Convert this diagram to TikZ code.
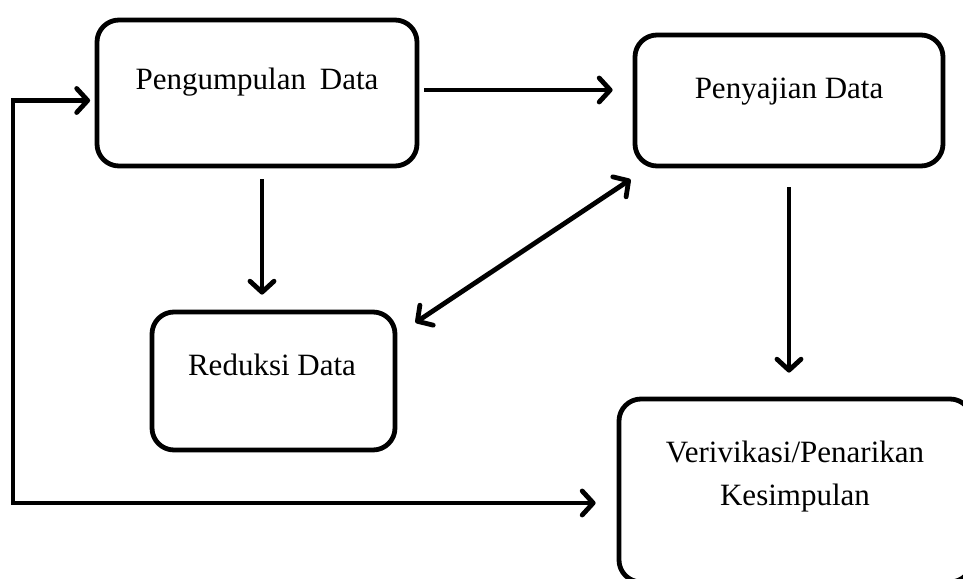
\documentclass[tikz,border=0pt]{standalone}
\usepackage{fontspec}
\setmainfont{Liberation Serif}
\usetikzlibrary{arrows.meta}
\tikzset{
  box/.style={draw, line width=4.8pt, rounded corners=22pt, minimum width=#1, inner sep=0pt},
  lbl/.style={anchor=base, font=\fontsize{31}{40}\selectfont, inner sep=0pt},
  arr/.style={line width=4.8pt, -{Straight Barb[length=11pt, width=24pt, line cap=round, line join=round]}},
  darr/.style={line width=4.8pt, {Straight Barb[length=11pt, width=24pt, line cap=round, line join=round]}-{Straight Barb[length=11pt, width=24pt, line cap=round, line join=round]}}
}
\begin{document}
\begin{tikzpicture}[x=1pt, y=-1pt]
\useasboundingbox (0,0) rectangle (963,578);
\clip (0,0) rectangle (963,578);
% boxes
\node[box=320pt, minimum height=146pt] (b1) at (257,93) {};
\node[box=308pt, minimum height=131pt] (b2) at (789,100.5) {};
\node[box=243pt, minimum height=138pt] (b3) at (273.5,381) {};
\node[box=353pt, minimum height=183pt] (b4) at (795.5,490.5) {};
% texts
\node[lbl] (t1) at (257,89) {Pengumpulan\hspace{0.45em}Data};
\node[lbl] (t2) at (789,98) {Penyajian Data};
\node[lbl] (t3) at (272,375) {Reduksi Data};
\node[lbl] (t4a) at (795,462) {Verivikasi/Penarikan};
\node[lbl] (t4b) at (795,505) {Kesimpulan};
% connectors
\draw[arr, shorten >=20pt] ([xshift=5pt, yshift=3pt]b1.east) -- ([yshift=3pt]b1.east -| b2.west);
\draw[arr, shorten <=11pt, shorten >=15pt] ([xshift=5pt]b1.south) -- ([xshift=5pt]b1.south |- b3.north);
\draw[arr, shorten <=19pt, shorten >=24pt] (b2.south) -- (b2.south |- b4.north);
\draw[darr] ([xshift=18pt, yshift=-13pt]b3.north east) -- ([xshift=-2pt, yshift=-11pt]b2.south west);
\coordinate (fbtop) at (13,100.5);
\coordinate (fbbot) at (13,503);
\draw[darr, line join=miter] ([xshift=-4.5pt]b1.west |- fbtop) -- (fbtop) -- (fbbot) -- ([xshift=-21pt]b4.west |- fbbot);
\end{tikzpicture}
\end{document}
